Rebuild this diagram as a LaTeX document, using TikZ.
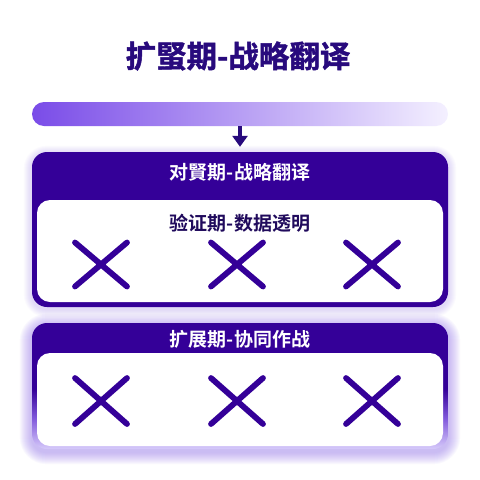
\documentclass[tikz,border=0pt]{standalone}
\usepackage{fontspec}
\newfontfamily\cjk{Noto Sans CJK SC}[BoldFont={Noto Sans CJK SC Bold}]
\newfontfamily\cjkheavy{Noto Sans CJK SC Bold}[FakeBold=1.6]
\usetikzlibrary{arrows.meta,backgrounds,calc}
\definecolor{boxc}{RGB}{52,0,152}
\definecolor{titlec}{RGB}{40,10,125}
\definecolor{subc}{RGB}{32,10,92}
\definecolor{barl}{RGB}{122,76,232}
\definecolor{barr}{RGB}{244,240,255}
\definecolor{lightp}{RGB}{214,202,250}
\definecolor{midp}{RGB}{130,90,220}
\definecolor{glowc}{RGB}{150,120,240}
\pgfdeclareverticalshading{boxtwo}{100bp}{color(0bp)=(lightp); color(25bp)=(lightp); color(37bp)=(midp); color(49bp)=(boxc); color(100bp)=(boxc)}
\tikzset{
  titletext/.style={font=\cjkheavy\fontsize{30.5}{32}\selectfont, text=titlec, inner sep=0pt},
  headtext/.style={font=\cjk\bfseries\fontsize{19}{20}\selectfont, text=white, inner sep=0pt},
  subtext/.style={font=\cjk\bfseries\fontsize{19}{20}\selectfont, text=subc, inner sep=0pt},
  barbox/.style={rectangle, rounded corners=12pt, minimum width=416pt, minimum height=24pt, inner sep=0pt, left color=barl, right color=barr},
  outerbox/.style={rectangle, rounded corners=15pt, minimum width=416pt, inner sep=0pt, fill=boxc},
  outershade/.style={rectangle, rounded corners=15pt, minimum width=416pt, inner sep=0pt, shading=boxtwo},
  innerbox/.style={rectangle, rounded corners=13pt, minimum width=406pt, inner sep=0pt, fill=white},
  arr/.style={draw=titlec, line width=3.6pt, -{Triangle[width=15pt,length=11pt]}, shorten >=5pt},
  xline/.style={draw=boxc, line width=5.8pt, line cap=round},
  xbig/.pic={\draw[xline] (-26,-22) -- (26,22) (-26,22) -- (26,-22);},
  xsmall/.pic={\draw[xline] (-26,-23) -- (26,23) (-26,23) -- (26,-23);}
}
\begin{document}
\begin{tikzpicture}[x=1pt,y=-1pt]
\useasboundingbox (0,0) rectangle (480,480);
\node[titletext] (title) at (238,56) {扩蜸期-战略翻译};
\node[barbox] (bar) at (240,114) {};
\node[outerbox, minimum height=155pt] (box1) at (240,229.5) {};
\node[innerbox, minimum height=102pt] (in1) at (240,251) {};
\node[headtext] (h1) at (240,172) {对賢期-战略翻译};
\node[subtext] (s1) at (240,223) {验证期-数据透明};
\pic at (101,264.5) {xbig};
\pic at (237,264.5) {xbig};
\pic at (372,264.5) {xbig};
\node[outershade, minimum height=126pt] (box2) at (240,386) {};
\node[innerbox, minimum height=93pt] (in2) at (240,399.5) {};
\node[headtext] (h2) at (240,339) {扩展期-协同作战};
\pic at (101,401) {xsmall};
\pic at (237,401) {xsmall};
\pic at (372,401) {xsmall};
\draw[arr] (bar.south) -- (box1.north);
\begin{scope}[on background layer]
\fill[white] (0,0) rectangle (480,480);
\foreach \i [evaluate=\i as \r using 15+\i] in {1,...,8}{
  \fill[glowc, opacity=0.035, rounded corners=\r pt] ($(box1.north west)+(-\i,-\i+2)$) rectangle ($(box1.south east)+(\i,\i+2)$);
}
\foreach \i [evaluate=\i as \r using 15+\i] in {1,...,12}{
  \fill[glowc, opacity=0.05, rounded corners=\r pt] ($(box2.north west)+(-\i,-\i+3)$) rectangle ($(box2.south east)+(\i,\i+3)$);
}
\end{scope}
\end{tikzpicture}
\end{document}
